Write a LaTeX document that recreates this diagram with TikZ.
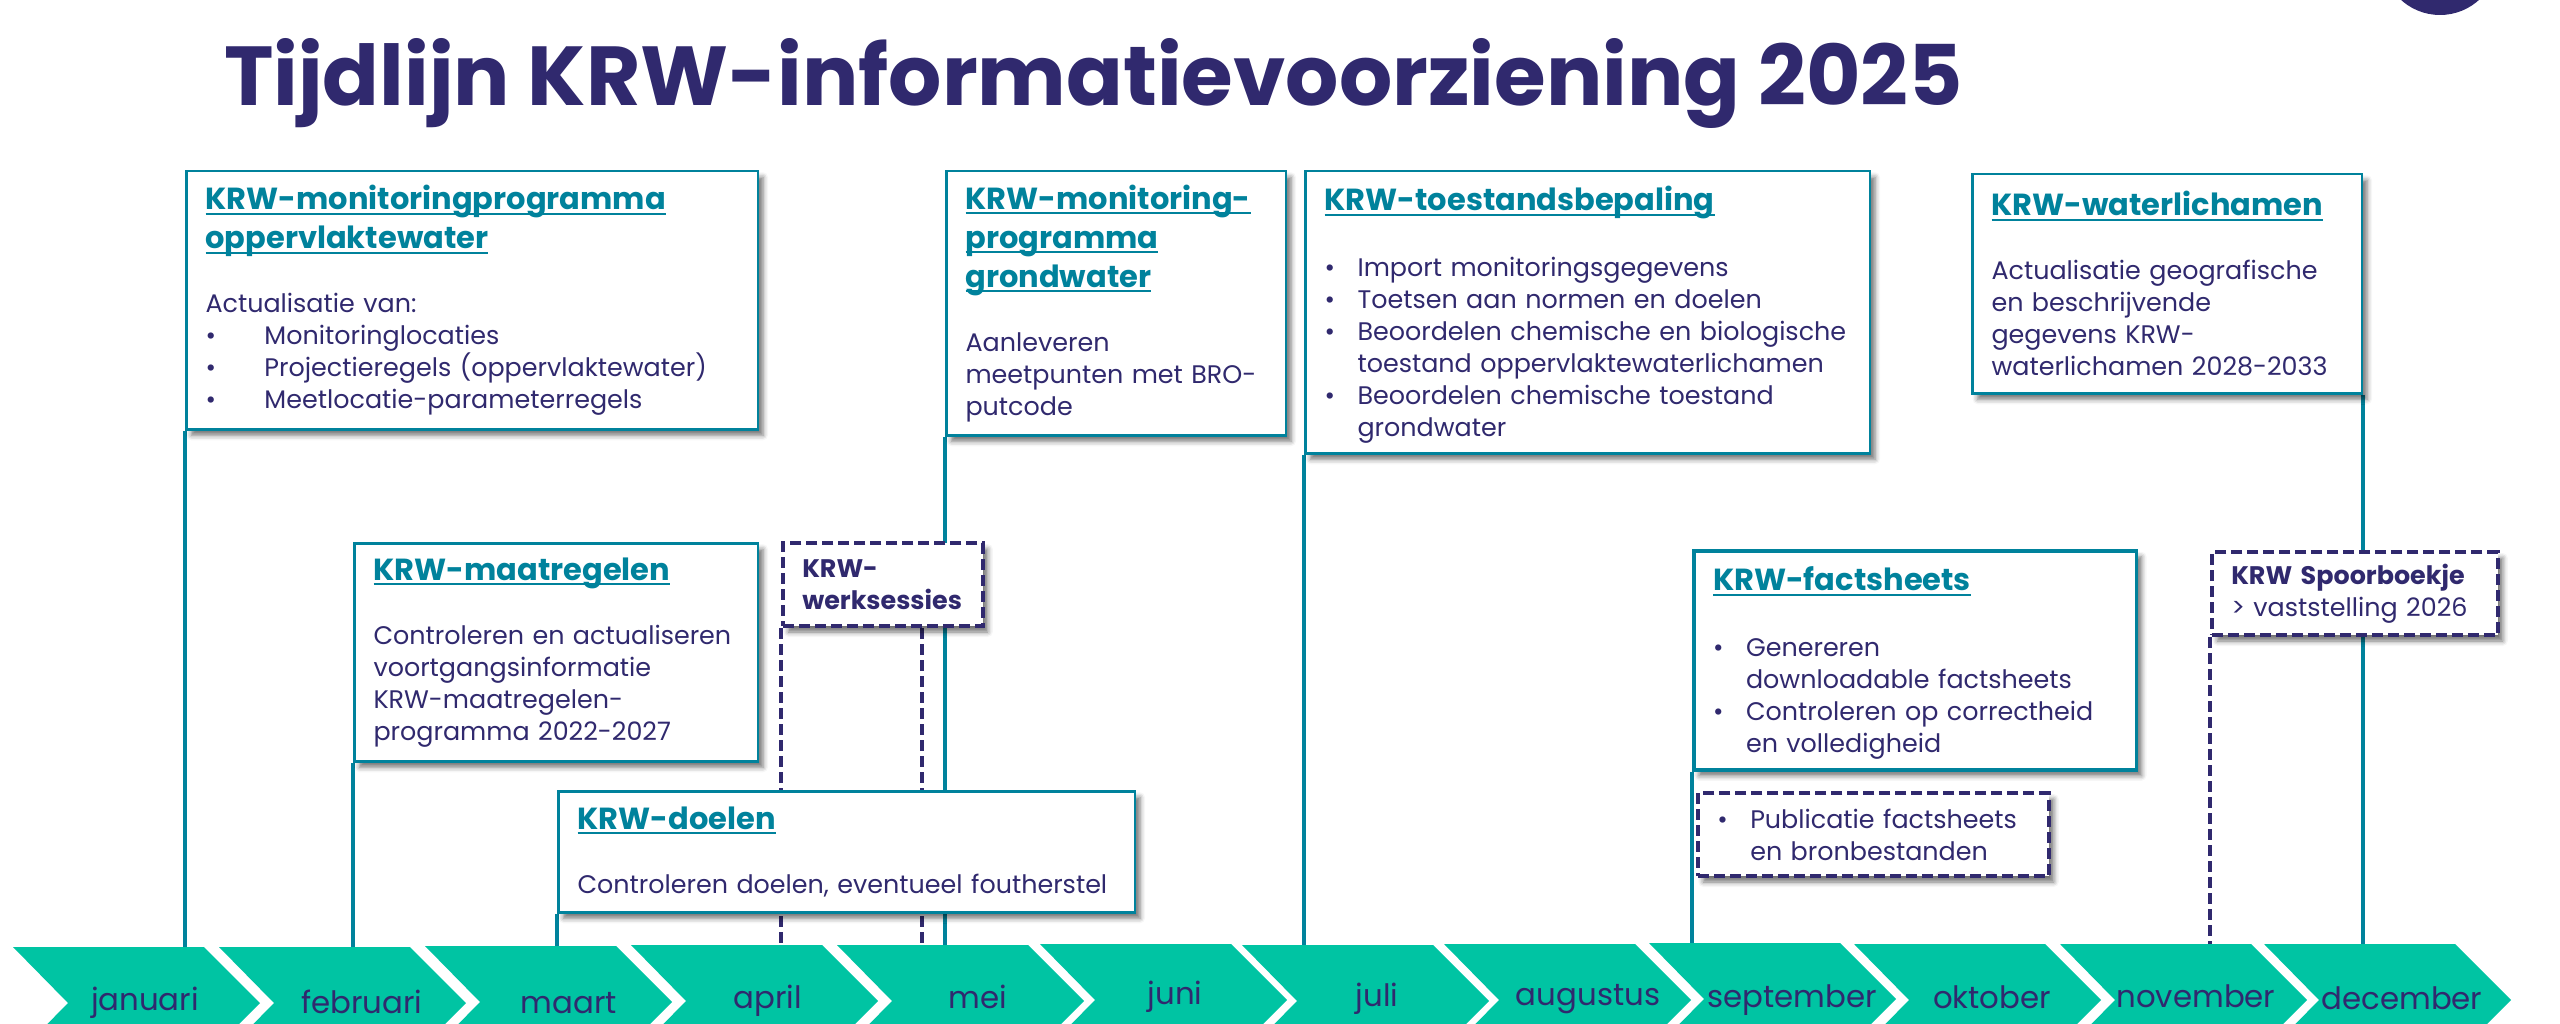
\documentclass[tikz,border=0pt]{standalone}
\usepackage{fontspec}
\setmainfont{Poppins}
\usetikzlibrary{backgrounds,shadows,shadows.blur}
\definecolor{krwnavy}{rgb}{0.19,0.16,0.43}
\definecolor{krwteal}{rgb}{0,0.51,0.61}
\definecolor{krwgreen}{rgb}{0,0.77,0.64}
\newsavebox{\krwheadbox}
\newcommand{\krwhead}[1]{\leavevmode{\fontsize{30.5}{39}\selectfont\bfseries\color{krwteal}\sbox{\krwheadbox}{#1}\rlap{\usebox{\krwheadbox}}\rule[-5pt]{\wd\krwheadbox}{2pt}}}
\newcommand{\krwitem}[2][33pt]{\makebox[#1][l]{\textbullet}#2}
\tikzset{
	krwtext/.style={anchor=north west,xshift=-0.75pt,inner xsep=19pt,inner ysep=0pt,align=left,text=krwnavy,fill=white,
		font=\fontsize{25.4}{32}\selectfont,minimum width={#1pt-1.5pt},text width={#1pt-39.5pt}},
	krwbox/.style={krwtext=#1,draw=krwteal,line width=2.5pt,blur shadow={shadow xshift=5pt,shadow yshift=-6pt,shadow blur radius=5pt,shadow opacity=55}},
	krwdash/.style={krwtext=#1,draw=krwnavy,line width=4pt,dash pattern=on 11pt off 5pt,blur shadow={shadow xshift=5pt,shadow yshift=-6pt,shadow blur radius=5pt,shadow opacity=55}},
	krwline/.style={draw=krwteal,line width=4pt},
	krwdashline/.style={draw=krwnavy,line width=4pt,dash pattern=on 11pt off 5pt},
	monthlabel/.style={text=krwnavy,font=\fontsize{30.8}{34}\selectfont,inner sep=0pt}
}
\begin{document}
\begin{tikzpicture}[line cap=butt,line join=miter,x=1pt,y=-1pt]
	\useasboundingbox (0,0) rectangle (2560,1024);
	\clip (0,0) rectangle (2560,1024);
	\fill[krwnavy] (2440,-43) circle (58);
	\node[anchor=base west,inner sep=0pt,text=krwnavy,font=\fontsize{83.7}{100}\selectfont\bfseries] (titel) at (224,106) {Tijdlijn KRW-informatievoorziening 2025};
	\foreach \name/\lft/\tp/\lx/\ly/\lab in {
		jan/13/947/145/1003/januari,feb/219/947/362/1002/februari,mrt/425/946/569/1003/maart,
		apr/631/945/768/1001/april,mei/837/945/978/997/mei,jun/1040/944/1175/997/juni,
		jul/1242/945/1377/999/juli,aug/1444/944/1588/999/augustus,sep/1649/943/1792/1000/september,
		okt/1854/944/1992/997/oktober,nov/2060/944/2196/996/november,dec/2264/944/2402/998/december}{
		\fill[krwgreen] (\lft,\tp) -- ++(191,0) -- ++(56,56) -- ++(-56,56) -- ++(-191,0) -- ++(55,-56) -- cycle;
		\coordinate (\name) at (\lft,\tp);
		\node[monthlabel] (\name label) at (\lx,\ly) {\lab};
	}
	\node[krwbox=573,minimum height=258pt] (monopp) at (186,170) {\krwhead{KRW-monitoringprogramma}\\[7pt]\krwhead{oppervlaktewater}\\[32pt]Actualisatie van:\\\krwitem[59pt]{Monitoringlocaties}\\\krwitem[59pt]{Projectieregels (oppervlaktewater)}\\\krwitem[59pt]{Meetlocatie-parameterregels}};
	\node[krwbox=405,minimum height=218pt] (maatregelen) at (354,542) {\krwhead{KRW-maatregelen}\\[32pt]Controleren en actualiseren\\voortgangsinformatie\\KRW-maatregelen-\\programma 2022-2027};
	\node[krwdash=201,minimum height=83pt] (werksessies) at (782,541) {\textbf{KRW-}\\\textbf{werksessies}};
	\node[krwbox=578,minimum height=121pt] (doelen) at (558,790) {\krwhead{KRW-doelen}\\[32pt]Controleren doelen, eventueel foutherstel};
	\node[krwbox=341,minimum height=264pt] (mongrond) at (946,170) {\krwhead{KRW-monitoring-}\\[7pt]\krwhead{programma}\\[7pt]\krwhead{grondwater}\\[32pt]Aanleveren\\meetpunten met BRO-\\putcode};
	\node[krwbox=566,minimum height=282pt] (toestand) at (1305,170) {\rule{0pt}{30pt}\krwhead{KRW-toestandsbepaling}\\[34pt]\krwitem{Import monitoringsgegevens}\\\krwitem{Toetsen aan normen en doelen}\\\krwitem{Beoordelen chemische en biologische}\\\hspace*{33pt}toestand oppervlaktewaterlichamen\\\krwitem{Beoordelen chemische toestand}\\\hspace*{33pt}grondwater};
	\node[krwbox=391,minimum height=219pt] (waterlichamen) at (1972,173) {\krwhead{KRW-waterlichamen}\\[32pt]Actualisatie geografische\\en beschrijvende\\gegevens KRW-\\waterlichamen 2028-2033};
	\node[krwbox=444,minimum height=219pt,line width=3.5pt] (factsheets) at (1693,549) {\rule{0pt}{30pt}\krwhead{KRW-factsheets}\\[34pt]\krwitem{Genereren}\\\hspace*{33pt}downloadable factsheets\\\krwitem{Controleren op correctheid}\\\hspace*{33pt}en volledigheid};
	\node[krwdash=352,minimum height=83pt] (publicatie) at (1697,791) {\krwitem{Publicatie factsheets}\\\hspace*{33pt}en bronbestanden};
	\node[krwdash=287,minimum height=83pt] (spoorboekje) at (2211,550) {\textbf{KRW Spoorboekje}\\> vaststelling 2026};
	\begin{scope}[on background layer]
		\draw[krwline] (monopp.south west) -- (monopp.south west |- jan);
		\draw[krwline] (maatregelen.south west) -- (maatregelen.south west |- feb);
		\draw[krwline] (doelen.south west) -- (doelen.south west |- mrt);
		\draw[krwline] (mongrond.south west) -- (mongrond.south west |- mei);
		\draw[krwline] (toestand.south west) -- (toestand.south west |- jul);
		\draw[krwline] (waterlichamen.south east) -- (waterlichamen.south east |- dec);
		\draw[krwline] (factsheets.south west) -- (factsheets.south west |- sep);
		\draw[krwdashline] (werksessies.south west) -- (werksessies.south west |- apr);
		\draw[krwdashline] ([xshift=141pt]werksessies.south west) -- ([xshift=141pt]werksessies.south west |- mei);
		\draw[krwdashline] (spoorboekje.south west) -- (spoorboekje.south west |- nov);
	\end{scope}
\end{tikzpicture}
\end{document}
